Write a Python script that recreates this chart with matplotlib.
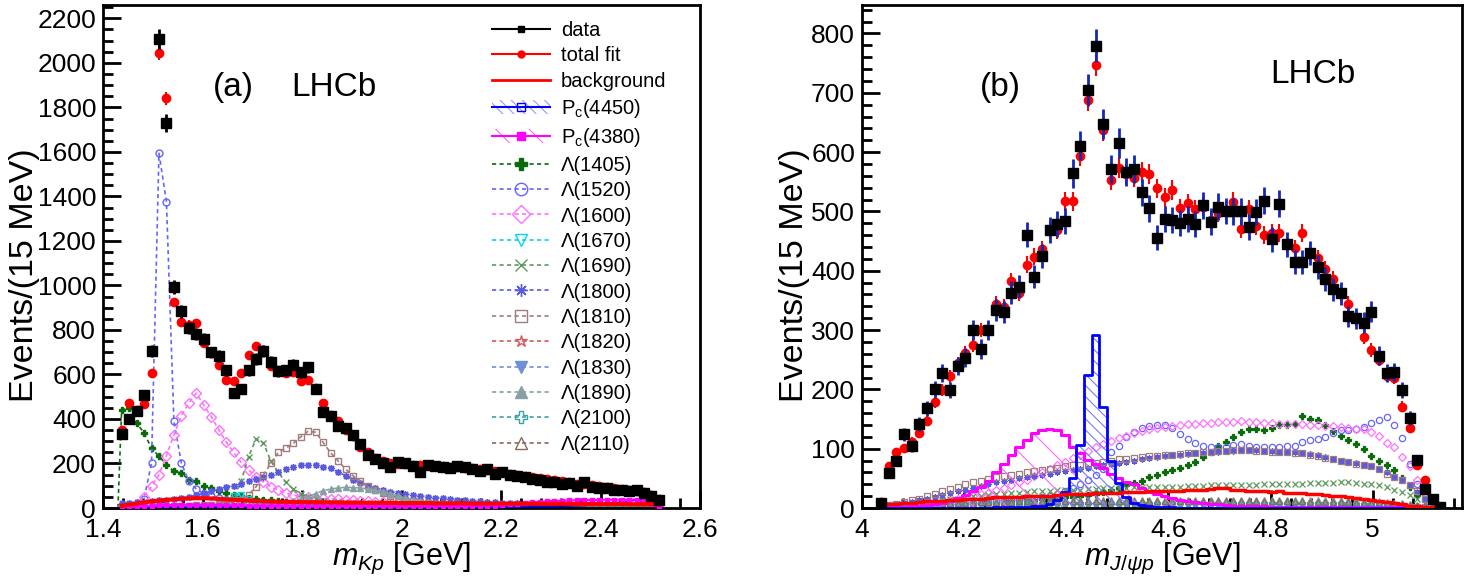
import numpy as np
import matplotlib.pyplot as plt
from matplotlib.lines import Line2D
from matplotlib.patches import Patch
from matplotlib.ticker import MultipleLocator, FuncFormatter

plt.rcParams['font.family'] = ['Liberation Sans', 'DejaVu Sans']
plt.rcParams['mathtext.fontset'] = 'custom'
plt.rcParams['mathtext.rm'] = 'Liberation Sans'
plt.rcParams['mathtext.it'] = 'Liberation Sans:italic'
plt.rcParams['hatch.linewidth'] = 0.8

# both histograms: 15 MeV bins, centre of first filled bin
kp_first = 1.4375
jp_first = 4.0375
bin_w = 0.015

# ---------------- (a) m_Kp ----------------
kp_data = [332, 400, 434, 509, 704, 2106, 1729, 991, 883, 808,
           781, 759, 699, 684, 618, 516, 534, 618, 669, 704,
           656, 614, 618, 644, 609, 632, 534, 431, 412, 370,
           359, 326, 289, 240, 220, 200, 186, 205, 200, 188,
           160, 195, 190, 185, 178, 190, 182, 175, 168, 175,
           155, 160, 150, 145, 140, 132, 125, 115, 118, 110,
           112, 100, 118, 96, 90, 88, 80, 82, 78, 80,
           66, 55, 35]
kp_fit = [351, 473, 440, 467, 608, 2043, 1841, 924, 834, 823,
          831, 741, 700, 644, 576, 569, 606, 686, 726, 711,
          636, 621, 606, 609, 572, 576, 539, 472, 419, 389,
          352, 322, 274, 251, 225, 210, 200, 198, 196, 195,
          193, 192, 190, 188, 186, 184, 181, 178, 174, 170,
          165, 160, 155, 150, 145, 140, 135, 130, 125, 120,
          115, 110, 106, 102, 98, 94, 90, 86, 82, 78,
          72, 60, 40]
bkg_kp = [10, 15, 20, 25, 30, 33, 36, 39, 41, 43,
          44, 44, 43, 41, 39, 37, 35, 33, 31, 30,
          29, 28, 28, 27, 27, 26, 26, 25, 25, 25,
          24, 24, 24, 23, 23, 23, 23, 22, 22, 22,
          22, 22, 21, 21, 21, 21, 21, 20, 20, 20,
          20, 20, 20, 20, 19, 19, 19, 19, 19, 19,
          19, 18, 18, 18, 18, 18, 18, 18, 17, 17,
          17, 17, 15]
pc4450_kp = [1, 1, 2, 2, 2, 2, 2, 2, 2, 2,
             2, 2, 2, 2, 2, 2, 2, 2, 2, 2,
             2, 2, 2, 2, 2, 2, 3, 3, 3, 3,
             3, 3, 3, 3, 3, 3, 3, 3, 3, 3,
             4, 4, 4, 4, 4, 4, 4, 5, 5, 5,
             5, 5, 6, 6, 6, 7, 7, 8, 8, 9,
             10, 11, 12, 14, 16, 19, 22, 26, 30, 38,
             45, 28, 5]
pc4380_kp = [2, 4, 6, 8, 10, 12, 13, 14, 15, 15,
             15, 15, 14, 14, 13, 12, 12, 11, 10, 10,
             9, 9, 8, 8, 8, 7, 7, 7, 7, 7,
             7, 7, 7, 7, 7, 7, 7, 7, 7, 7,
             7, 7, 8, 8, 8, 9, 9, 10, 10, 11,
             11, 13, 16, 20, 23, 26, 28, 30, 32, 33,
             34, 35, 35, 36, 36, 37, 37, 37, 38, 38,
             30, 18, 5]
lam1405_kp = [440, 449, 382, 337, 269, 232, 195, 165, 157, 127,
              120, 97, 90, 75, 67, 60, 52, 45, 40, 37,
              34, 31, 29, 27, 25, 23, 21, 19, 17, 15,
              14, 13, 12, 11, 10, 9, 9, 8, 8, 7,
              7, 6, 6, 6, 5, 5, 5, 5, 4, 4,
              4, 4, 4, 4, 3, 3, 3, 3, 3, 3,
              3, 3, 2, 2, 2, 2, 2, 2, 2, 2,
              2, 1, 1]
lam1520_kp = [5, 8, 15, 40, 202, 1594, 1377, 389, 202, 120,
              85, 65, 52, 44, 38, 33, 29, 26, 23, 21,
              19, 17, 16, 15, 14, 13, 12, 11, 10, 10,
              9, 9, 8, 8, 8, 7, 7, 7, 6, 6,
              6, 6, 5, 5, 5, 5, 5, 4, 4, 4,
              4, 4, 4, 4, 4, 3, 3, 3, 3, 3,
              3, 3, 3, 3, 3, 3, 2, 2, 2, 2,
              2, 2, 1]
lam1600_kp = [3, 8, 20, 50, 97, 150, 235, 328, 415, 471,
              516, 462, 411, 352, 297, 250, 205, 172, 140, 118,
              95, 80, 67, 58, 51, 48, 45, 43, 41, 39,
              37, 35, 33, 31, 29, 27, 25, 23, 21, 20,
              19, 18, 17, 16, 15, 14, 13, 12, 11, 11,
              10, 10, 9, 9, 8, 8, 8, 7, 7, 7,
              6, 6, 6, 5, 5, 5, 5, 4, 4, 4,
              3, 3, 2]
lam1670_kp = [2, 2, 2, 3, 3, 3, 4, 4, 5, 6,
              7, 9, 12, 20, 35, 55, 60, 40, 22, 14,
              10, 8, 7, 6, 6, 5, 5, 5, 4, 4,
              4, 4, 3, 3, 3, 3, 3, 3, 3, 2,
              2, 2, 2, 2, 2, 2, 2, 2, 2, 2,
              2, 2, 1, 1, 1, 1, 1, 1, 1, 1,
              1, 1, 1, 1, 1, 1, 1, 1, 1, 1,
              1, 1, 0]
lam1690_kp = [3, 3, 4, 4, 5, 5, 6, 6, 7, 8,
              9, 10, 12, 15, 22, 40, 120, 230, 310, 293,
              210, 160, 115, 85, 65, 50, 40, 33, 28, 25,
              22, 20, 18, 16, 15, 14, 13, 12, 11, 10,
              10, 9, 9, 8, 8, 8, 7, 7, 7, 6,
              6, 6, 6, 5, 5, 5, 5, 5, 4, 4,
              4, 4, 4, 4, 4, 3, 3, 3, 3, 3,
              3, 2, 1]
lam1800_kp = [22, 24, 26, 28, 31, 34, 37, 41, 45, 51,
              58, 66, 75, 84, 93, 101, 110, 120, 130, 140,
              150, 162, 175, 184, 192, 195, 193, 186, 178, 162,
              145, 128, 112, 100, 90, 82, 74, 68, 63, 58,
              54, 50, 47, 44, 41, 38, 35, 32, 30, 28,
              26, 24, 23, 21, 20, 18, 17, 16, 15, 15,
              14, 14, 13, 13, 12, 12, 12, 12, 11, 11,
              10, 9, 8]
lam1810_kp = [2, 3, 4, 5, 6, 7, 8, 9, 10, 11,
              12, 13, 15, 17, 20, 25, 35, 60, 95, 150,
              200, 250, 270, 290, 320, 345, 340, 295, 248, 212,
              175, 145, 122, 97, 80, 66, 55, 46, 38, 32,
              27, 23, 20, 17, 15, 13, 11, 10, 9, 8,
              7, 7, 6, 6, 5, 5, 5, 4, 4, 4,
              4, 3, 3, 3, 3, 3, 3, 2, 2, 2,
              2, 2, 1]
lam1820_kp = [1, 1, 1, 2, 2, 2, 2, 3, 3, 3,
              3, 4, 4, 4, 5, 5, 6, 7, 8, 10,
              12, 15, 18, 22, 25, 27, 26, 23, 19, 15,
              12, 10, 8, 7, 6, 5, 5, 4, 4, 4,
              3, 3, 3, 3, 3, 3, 3, 2, 2, 2,
              2, 2, 2, 2, 2, 2, 2, 2, 2, 2,
              1, 1, 1, 1, 1, 1, 1, 1, 1, 1,
              1, 1, 0]
lam1830_kp = [1, 1, 2, 2, 2, 2, 3, 3, 3, 3,
              3, 4, 4, 4, 4, 5, 5, 5, 6, 6,
              7, 8, 9, 10, 11, 12, 13, 14, 14, 13,
              12, 11, 10, 9, 8, 7, 7, 6, 6, 5,
              5, 5, 4, 4, 4, 4, 3, 3, 3, 3,
              3, 3, 3, 2, 2, 2, 2, 2, 2, 2,
              2, 2, 2, 2, 2, 1, 1, 1, 1, 1,
              1, 1, 0]
lam1890_kp = [2, 2, 3, 3, 3, 4, 4, 4, 5, 5,
              5, 6, 6, 7, 7, 8, 8, 9, 9, 10,
              12, 16, 22, 30, 40, 50, 65, 78, 85, 90,
              93, 92, 90, 86, 80, 72, 63, 54, 45, 38,
              32, 27, 22, 18, 15, 12, 10, 9, 8, 7,
              6, 6, 5, 5, 5, 4, 4, 4, 4, 3,
              3, 3, 3, 3, 3, 3, 2, 2, 2, 2,
              2, 2, 1]
lam2100_kp = [1, 1, 1, 2, 2, 2, 2, 2, 3, 3,
              3, 3, 3, 4, 4, 4, 4, 5, 5, 5,
              5, 6, 6, 6, 7, 7, 7, 8, 8, 8,
              9, 9, 9, 10, 10, 10, 11, 11, 11, 12,
              12, 12, 12, 12, 12, 12, 11, 11, 11, 10,
              10, 10, 9, 9, 9, 8, 8, 8, 7, 7,
              7, 6, 6, 6, 5, 5, 5, 4, 4, 4,
              3, 2, 1]
lam2110_kp = [2, 2, 3, 3, 3, 4, 4, 4, 5, 5,
              5, 6, 6, 7, 7, 8, 8, 9, 10, 11,
              12, 13, 14, 15, 16, 17, 18, 19, 20, 21,
              21, 22, 22, 22, 22, 21, 21, 20, 19, 18,
              17, 16, 15, 14, 13, 12, 11, 10, 9, 8,
              8, 7, 7, 6, 6, 5, 5, 5, 4, 4,
              4, 4, 3, 3, 3, 3, 3, 2, 2, 2,
              2, 1, 1]

# ---------------- (b) m_J/psi p ----------------
jp_data = [8, 59, 79, 124, 104, 142, 168, 200, 227, 199,
           239, 253, 300, 268, 300, 334, 330, 363, 373, 461,
           390, 425, 469, 479, 484, 564, 611, 705, 779, 648,
           572, 615, 567, 572, 532, 505, 456, 487, 485, 481,
           487, 479, 510, 483, 508, 501, 500, 500, 474, 499,
           518, 453, 513, 445, 415, 415, 430, 406, 386, 369,
           362, 323, 320, 312, 331, 257, 227, 229, 199, 152,
           81, 32, 15, 2]
jp_fit = [10, 71, 94, 101, 112, 127, 146, 178, 199, 222,
          244, 261, 275, 300, 300, 344, 339, 382, 362, 410,
          424, 436, 469, 469, 517, 517, 593, 688, 747, 637,
          553, 573, 563, 557, 567, 563, 539, 524, 536, 505,
          514, 504, 508, 486, 497, 502, 516, 471, 504, 475,
          460, 463, 463, 444, 438, 464, 431, 421, 403, 386,
          363, 344, 320, 289, 266, 250, 223, 219, 171, 135,
          73, 47, 14, 2]
bkg_jp = [5, 6, 7, 8, 9, 10, 11, 12, 12, 13,
          14, 15, 16, 16, 17, 18, 18, 19, 19, 20,
          20, 21, 21, 22, 23, 23, 24, 24, 25, 25,
          26, 26, 27, 27, 27, 28, 28, 28, 29, 29,
          30, 30, 31, 32, 33, 33, 31, 30, 29, 28,
          28, 27, 28, 26, 25, 25, 24, 23, 22, 21,
          20, 18, 17, 15, 14, 12, 10, 8, 6, 4,
          3, 2, 1, 0]
pc4450_jp = [0, 0, 0, 0, 0, 0, 0, 0, 0, 0,
             0, 0, 0, 0, 0, 1, 1, 1, 2, 2,
             3, 4, 6, 13, 27, 50, 107, 225, 292, 171,
             79, 42, 19, 9, 5, 3, 2, 1, 1, 0,
             0, 0, 0, 0, 0, 0, 0, 0, 0, 0,
             0, 0, 0, 0, 0, 0, 0, 0, 0, 0,
             0, 0, 0, 0, 0, 0, 0, 0, 0, 0,
             0, 0, 0, 0]
pc4380_jp = [1, 1, 2, 2, 3, 4, 5, 6, 8, 12,
             17, 22, 28, 36, 46, 60, 75, 89, 103, 114,
             126, 132, 134, 131, 123, 103, 92, 81, 75, 67,
             58, 50, 44, 40, 33, 27, 23, 20, 17, 14,
             12, 10, 8, 7, 6, 5, 4, 4, 3, 3,
             3, 2, 2, 2, 2, 2, 2, 1, 1, 1,
             1, 1, 1, 1, 1, 1, 1, 1, 1, 1,
             1, 1, 0, 0]
lam1405_jp = [1, 2, 2, 3, 3, 4, 4, 5, 5, 6,
              6, 7, 7, 8, 8, 9, 10, 11, 12, 13,
              14, 15, 16, 17, 18, 19, 20, 22, 24, 27,
              30, 34, 38, 42, 46, 52, 56, 60, 64, 68,
              72, 78, 86, 95, 105, 112, 120, 128, 134, 133,
              131, 135, 140, 140, 141, 155, 150, 148, 140, 130,
              122, 115, 108, 100, 88, 80, 72, 64, 50, 35,
              22, 14, 8, 3]
lam1520_jp = [2, 3, 3, 4, 4, 5, 5, 6, 6, 7,
              7, 8, 8, 9, 10, 11, 12, 13, 14, 15,
              17, 19, 21, 24, 28, 33, 40, 48, 55, 65,
              95, 105, 120, 128, 135, 138, 140, 140, 135, 125,
              117, 110, 104, 103, 102, 103, 106, 108, 104, 103,
              102, 103, 103, 104, 105, 112, 114, 116, 120, 126,
              131, 131, 133, 137, 143, 148, 153, 140, 118, 75,
              40, 25, 12, 2]
lam1600_jp = [3, 4, 5, 6, 7, 8, 9, 10, 12, 14,
              16, 18, 20, 23, 26, 30, 34, 38, 43, 48,
              54, 60, 66, 72, 78, 84, 90, 96, 102, 108,
              113, 118, 122, 126, 130, 133, 135, 137, 138, 140,
              141, 142, 143, 144, 145, 145, 145, 146, 145, 145,
              144, 143, 142, 141, 141, 141, 140, 140, 139, 138,
              137, 135, 134, 133, 128, 122, 110, 103, 86, 70,
              47, 25, 8, 1]
lam1670_jp = [1, 1, 1, 1, 2, 2, 2, 2, 2, 2,
              2, 3, 3, 3, 3, 3, 3, 3, 3, 3,
              3, 3, 3, 3, 3, 3, 3, 3, 3, 3,
              3, 3, 3, 3, 3, 3, 3, 3, 3, 3,
              3, 3, 3, 3, 3, 3, 3, 3, 3, 3,
              3, 3, 3, 3, 3, 3, 3, 3, 3, 3,
              3, 3, 3, 3, 3, 3, 2, 2, 2, 2,
              1, 1, 1, 0]
lam1690_jp = [2, 4, 6, 8, 10, 11, 12, 13, 14, 15,
              16, 18, 20, 21, 22, 23, 24, 25, 26, 27,
              28, 28, 29, 30, 30, 31, 31, 32, 32, 33,
              33, 34, 34, 35, 35, 35, 36, 36, 36, 36,
              37, 37, 37, 38, 38, 38, 38, 39, 39, 39,
              40, 40, 40, 41, 41, 41, 42, 42, 42, 42,
              43, 43, 42, 41, 40, 38, 35, 31, 27, 22,
              15, 8, 3, 1]
lam1800_jp = [2, 4, 6, 8, 10, 13, 16, 19, 22, 25,
              28, 31, 34, 37, 40, 43, 46, 48, 50, 52,
              54, 56, 58, 60, 62, 64, 66, 68, 70, 72,
              74, 76, 78, 80, 82, 84, 86, 88, 89, 90,
              91, 92, 93, 94, 95, 96, 96, 97, 97, 97,
              96, 96, 95, 95, 94, 93, 91, 89, 86, 83,
              80, 78, 76, 73, 70, 66, 60, 53, 47, 38,
              27, 15, 6, 1]
lam1810_jp = [3, 5, 7, 10, 13, 16, 20, 24, 28, 32,
              36, 40, 43, 46, 49, 52, 54, 56, 58, 60,
              62, 64, 66, 68, 70, 72, 73, 74, 76, 78,
              80, 82, 83, 85, 86, 87, 88, 89, 90, 91,
              92, 93, 94, 95, 96, 96, 97, 97, 97, 96,
              96, 95, 95, 94, 93, 92, 90, 88, 85, 82,
              80, 77, 75, 72, 70, 65, 58, 52, 47, 38,
              28, 15, 6, 1]
lam1820_jp = [1, 1, 2, 2, 3, 3, 3, 4, 4, 4,
              4, 5, 5, 5, 5, 5, 5, 6, 6, 6,
              6, 6, 6, 6, 6, 6, 6, 6, 6, 6,
              6, 6, 6, 6, 6, 6, 6, 6, 6, 6,
              6, 6, 6, 6, 6, 6, 6, 6, 6, 6,
              6, 6, 6, 6, 6, 6, 6, 6, 6, 6,
              6, 5, 5, 5, 5, 4, 4, 4, 3, 3,
              2, 2, 1, 0]
lam1830_jp = [0, 1, 1, 1, 2, 2, 2, 2, 3, 3,
              3, 3, 3, 3, 4, 4, 4, 4, 4, 4,
              4, 4, 4, 4, 4, 4, 4, 4, 4, 4,
              4, 4, 4, 4, 4, 4, 4, 4, 4, 4,
              4, 4, 4, 4, 4, 4, 4, 4, 4, 4,
              4, 4, 4, 4, 4, 4, 4, 4, 4, 4,
              4, 4, 4, 4, 3, 3, 3, 3, 3, 2,
              2, 1, 1, 0]
lam1890_jp = [1, 2, 3, 4, 5, 6, 7, 8, 8, 9,
              9, 10, 10, 11, 11, 12, 12, 12, 13, 13,
              13, 13, 14, 14, 14, 14, 14, 14, 14, 14,
              14, 14, 14, 14, 14, 14, 14, 14, 14, 14,
              14, 14, 14, 14, 14, 14, 14, 14, 14, 14,
              14, 14, 14, 14, 14, 14, 14, 14, 14, 14,
              14, 13, 13, 12, 12, 11, 10, 9, 8, 7,
              5, 3, 2, 0]
lam2100_jp = [1, 1, 2, 2, 3, 3, 4, 4, 5, 5,
              5, 6, 6, 6, 6, 7, 7, 7, 7, 7,
              7, 8, 8, 8, 8, 8, 8, 8, 8, 8,
              8, 8, 8, 8, 8, 8, 8, 8, 8, 8,
              8, 8, 8, 8, 8, 8, 8, 8, 8, 8,
              8, 8, 8, 8, 8, 8, 8, 8, 8, 8,
              8, 8, 7, 7, 7, 6, 6, 5, 5, 4,
              3, 2, 1, 0]
lam2110_jp = [1, 2, 3, 4, 5, 6, 7, 7, 8, 8,
              9, 9, 9, 10, 10, 10, 10, 10, 11, 11,
              11, 11, 11, 11, 11, 11, 11, 11, 11, 11,
              11, 11, 11, 11, 11, 11, 11, 11, 11, 11,
              11, 11, 11, 11, 11, 11, 11, 11, 11, 11,
              11, 11, 11, 11, 11, 11, 10, 10, 10, 10,
              10, 10, 9, 9, 9, 8, 8, 7, 6, 5,
              4, 3, 2, 0]

# label, (a) values, (b) values, colour, marker, filled
lambdas = [
    ('Λ(1405)', lam1405_kp, lam1405_jp, '#0b6b0b', 'P', True),
    ('Λ(1520)', lam1520_kp, lam1520_jp, '#6464ff', 'o', False),
    ('Λ(1600)', lam1600_kp, lam1600_jp, '#ff70ff', 'D', False),
    ('Λ(1670)', lam1670_kp, lam1670_jp, '#00d8f0', 'v', False),
    ('Λ(1690)', lam1690_kp, lam1690_jp, '#5c9a5c', 'x', False),
    ('Λ(1800)', lam1800_kp, lam1800_jp, '#5a5ae0', (8, 2, 0), True),
    ('Λ(1810)', lam1810_kp, lam1810_jp, '#a07c7c', 's', False),
    ('Λ(1820)', lam1820_kp, lam1820_jp, '#d85a5a', '*', False),
    ('Λ(1830)', lam1830_kp, lam1830_jp, '#6f8fd8', 'v', True),
    ('Λ(1890)', lam1890_kp, lam1890_jp, '#87a0a6', '^', True),
    ('Λ(2100)', lam2100_kp, lam2100_jp, '#3aa3a3', 'P', False),
    ('Λ(2110)', lam2110_kp, lam2110_jp, '#8c6a5a', '^', False),
]

kp_mass = kp_first + bin_w * np.arange(len(kp_data))
jp_mass = jp_first + bin_w * np.arange(len(jp_data))

fig = plt.figure(figsize=(14.65, 5.83), dpi=100)
ax1 = fig.add_axes([103 / 1465, 75 / 583, 597 / 1465, 503 / 583])
ax2 = fig.add_axes([862 / 1465, 75 / 583, 600 / 1465, 503 / 583])

dash = (0, (2.5, 2))

# components: dashed lines + markers in (a), markers only in (b)
for name, ykp, yjp, col, mk, filled in lambdas:
    mfc = col if filled else 'none'
    ax1.plot(np.r_[kp_mass[0] - bin_w / 2, kp_mass], np.r_[0, ykp],
             ls=dash, lw=1.2, color=col, zorder=2)
    ax1.plot(kp_mass, ykp, ls='none', color=col, marker=mk, ms=5,
             mfc=mfc, mew=1, zorder=2)
    ax2.plot(jp_mass, yjp, ls='none', color=col, marker=mk, ms=4.5,
             mfc=mfc, mew=0.9, zorder=2)

ax1.plot(kp_mass, pc4450_kp, color='#0000ff', lw=1.5, zorder=3)
ax1.plot(kp_mass, pc4380_kp, color='#ff00ff', lw=1.5, marker='s', ms=3, zorder=3)
ax1.plot(kp_mass, bkg_kp, color='red', lw=3, zorder=3)

ax1.errorbar(kp_mass, kp_fit, yerr=0.7 * np.sqrt(kp_fit), fmt='o', color='red',
             ms=6, elinewidth=1.5, capsize=0, zorder=4)
ax1.errorbar(kp_mass, kp_data, yerr=np.sqrt(kp_data), fmt='s', color='black',
             ms=6.5, elinewidth=2, capsize=0, zorder=5)

# Pc histograms + background in (b)
ax2.fill_between(jp_mass, pc4380_jp, step='mid', facecolor='none',
                 edgecolor='#ff66ff', hatch='\\', lw=0, zorder=2)
ax2.step(jp_mass, pc4380_jp, where='mid', color='#ff00ff', lw=2.2, zorder=3)
ax2.fill_between(jp_mass, pc4450_jp, step='mid', facecolor='none',
                 edgecolor='#7a7aff', hatch='\\\\\\', lw=0, zorder=2)
ax2.step(jp_mass, pc4450_jp, where='mid', color='#0000ff', lw=2, zorder=3)
ax2.step(jp_mass, bkg_jp, where='mid', color='red', lw=2.5, zorder=3)

ax2.errorbar(jp_mass, jp_fit, yerr=0.7 * np.sqrt(jp_fit), fmt='o', color='red',
             ms=6, elinewidth=1.5, capsize=0, zorder=4)
ax2.errorbar(jp_mass, jp_data, yerr=np.sqrt(jp_data), fmt='s', mfc='black',
             mec='black', ecolor='#1428b4', ms=6.5, elinewidth=2, capsize=0, zorder=5)

# ROOT-like axes
ax1.set_xlim(1.4, 2.6)
ax1.set_ylim(0, 2260)
ax2.set_xlim(4.0, 5.175)
ax2.set_ylim(0, 848)
ax1.yaxis.set_major_locator(MultipleLocator(200))
ax1.yaxis.set_minor_locator(MultipleLocator(50))
ax2.yaxis.set_major_locator(MultipleLocator(100))
ax2.yaxis.set_minor_locator(MultipleLocator(20))
for ax in (ax1, ax2):
    ax.xaxis.set_major_locator(MultipleLocator(0.2))
    ax.xaxis.set_minor_locator(MultipleLocator(0.04))
    ax.xaxis.set_major_formatter(FuncFormatter(lambda v, p: f'{v:g}'))
    ax.tick_params(which='both', direction='in', top=False, right=False,
                   width=2, labelsize=19, pad=5)
    ax.tick_params(axis='x', which='major', pad=7)
    ax.tick_params(which='major', length=13)
    ax.tick_params(which='minor', length=7)
    for s in ax.spines.values():
        s.set_linewidth(2)
    ax.set_ylabel('Events/(15 MeV)', fontsize=24.5)

ax1.set_xlabel(r'$m_{Kp}$ [GeV]', fontsize=22)
ax2.set_xlabel(r'$m_{J/\psi p}$ [GeV]', fontsize=22)
ax1.yaxis.set_label_coords(-0.106, 0.463)
ax2.yaxis.set_label_coords(-0.086, 0.463)
ax1.xaxis.set_label_coords(0.5, -0.066)
ax2.xaxis.set_label_coords(0.5, -0.066)

ax1.text(0.218, 0.835, '(a)', transform=ax1.transAxes, fontsize=24, ha='center', va='center')
ax1.text(0.387, 0.835, 'LHCb', transform=ax1.transAxes, fontsize=24, ha='center', va='center')
ax2.text(0.23, 0.835, '(b)', transform=ax2.transAxes, fontsize=24, ha='center', va='center')
ax2.text(0.752, 0.861, 'LHCb', transform=ax2.transAxes, fontsize=24, ha='center', va='center')

# legend
handles = [
    Line2D([], [], color='black', marker='s', ms=5, lw=1.5),
    Line2D([], [], color='red', marker='o', ms=5, lw=1.5),
    Line2D([], [], color='red', lw=2),
    (Patch(facecolor='none', edgecolor='#9a9aff', hatch='\\\\\\', lw=0),
     Line2D([], [], color='#0000ff', marker='s', mfc='none', ms=6, lw=1.5)),
    (Patch(facecolor='none', edgecolor='#ff66ff', hatch='\\', lw=0),
     Line2D([], [], color='#ff00ff', marker='s', ms=6, lw=1.5)),
]
labels = ['data', 'total fit', 'background', r'P$_{\rm c}$(4450)', r'P$_{\rm c}$(4380)']
for name, ykp, yjp, col, mk, filled in lambdas:
    handles.append(Line2D([], [], color=col, ls=dash, lw=1.2, marker=mk, ms=9,
                          mfc=col if filled else 'none', mew=1))
    labels.append(name)
ax1.legend(handles, labels, loc='upper left', bbox_to_anchor=(0.652, 0.968),
           frameon=False, fontsize=14.5, handlelength=2.85, handletextpad=0.55,
           labelspacing=0.315, borderaxespad=0, borderpad=0, numpoints=1)

fig.savefig('out.png', dpi=100)
